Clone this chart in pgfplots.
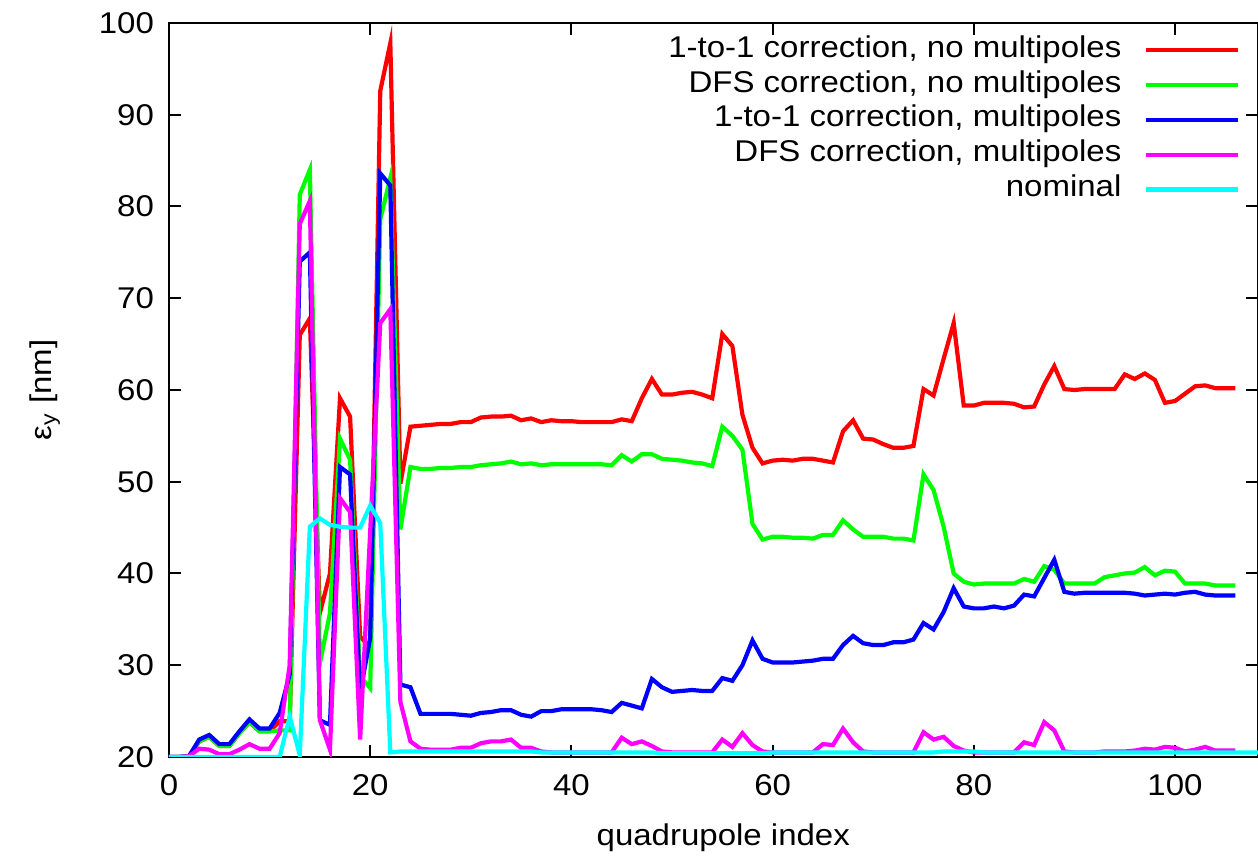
\documentclass[border=0pt]{standalone}
\usepackage{pgfplots}
\pgfplotsset{compat=1.18}
\usepackage{pgfplotstable}
\usepackage{fontspec}
\setmainfont{Liberation Sans}[FakeStretch=1.1]

\definecolor{cR}{RGB}{255,0,0}
\definecolor{cG}{RGB}{0,255,0}
\definecolor{cB}{RGB}{0,0,255}
\definecolor{cM}{RGB}{255,0,255}
\definecolor{cC}{RGB}{0,255,255}

% emittance growth along the line, 5 cases
\pgfplotstableread{
x r g b m c
0 20.0 20.0 20.0 20.0 20.0
1 20.0 20.0 20.0 20.0 20.0
2 20.1 20.1 20.1 20.1 20.0
3 21.7 21.7 21.9 20.9 20.0
4 22.2 22.2 22.4 20.8 20.0
5 21.2 21.2 21.4 20.3 20.0
6 21.2 21.2 21.4 20.3 20.0
7 22.6 22.6 22.8 20.8 20.0
8 23.8 23.8 24.1 21.4 20.0
9 22.8 22.8 23.1 20.9 20.0
10 22.8 22.8 23.1 20.9 20.0
11 23.9 22.9 24.8 22.6 20.0
12 23.9 22.9 29.0 30.0 24.4
13 66.0 81.3 74.0 78.1 20.2
14 67.8 84.0 75.0 80.6 45.1
15 35.7 30.2 24.0 24.0 46.0
16 40.0 35.7 23.5 20.8 45.3
17 59.1 54.7 51.6 48.2 45.1
18 57.1 52.4 50.8 46.7 45.0
19 33.1 28.8 27.0 21.9 45.0
20 32.0 27.5 33.0 44.6 47.4
21 92.6 78.6 83.6 67.3 45.5
22 97.8 83.1 82.3 68.8 20.5
23 49.8 44.8 27.9 26.0 20.6
24 56.0 51.6 27.6 21.7 20.6
25 56.1 51.4 24.7 20.9 20.6
26 56.2 51.4 24.7 20.8 20.6
27 56.3 51.5 24.7 20.8 20.6
28 56.3 51.5 24.7 20.8 20.6
29 56.5 51.6 24.6 21.0 20.6
30 56.5 51.6 24.5 21.0 20.6
31 57.0 51.8 24.8 21.5 20.6
32 57.1 51.9 24.9 21.7 20.6
33 57.1 52.0 25.1 21.7 20.6
34 57.2 52.2 25.1 21.9 20.6
35 56.7 51.9 24.6 21.0 20.6
36 56.9 52.0 24.4 21.0 20.6
37 56.5 51.8 25.0 20.6 20.5
38 56.7 51.9 25.0 20.5 20.5
39 56.6 51.9 25.2 20.5 20.5
40 56.6 51.9 25.2 20.5 20.5
41 56.5 51.9 25.2 20.5 20.5
42 56.5 51.9 25.2 20.5 20.5
43 56.5 51.9 25.1 20.5 20.5
44 56.5 51.8 24.9 20.5 20.5
45 56.8 52.9 25.9 22.1 20.5
46 56.6 52.2 25.6 21.4 20.5
47 59.1 53.0 25.3 21.7 20.5
48 61.2 53.0 28.5 21.2 20.5
49 59.5 52.5 27.6 20.6 20.4
50 59.5 52.4 27.1 20.5 20.4
51 59.7 52.3 27.2 20.5 20.4
52 59.8 52.1 27.3 20.5 20.4
53 59.5 52.0 27.2 20.5 20.4
54 59.1 51.7 27.2 20.5 20.4
55 66.1 56.0 28.6 21.9 20.4
56 64.8 55.0 28.3 21.1 20.4
57 57.3 53.5 30.0 22.6 20.4
58 53.7 45.4 32.7 21.3 20.4
59 52.0 43.7 30.7 20.6 20.4
60 52.3 44.0 30.3 20.5 20.5
61 52.4 44.0 30.3 20.5 20.5
62 52.3 43.9 30.3 20.5 20.5
63 52.5 43.9 30.4 20.5 20.5
64 52.5 43.8 30.5 20.5 20.5
65 52.3 44.2 30.7 21.4 20.5
66 52.1 44.2 30.7 21.3 20.5
67 55.5 45.8 32.2 23.1 20.5
68 56.7 44.8 33.2 21.6 20.5
69 54.7 44.0 32.4 20.6 20.5
70 54.6 44.0 32.2 20.5 20.5
71 54.1 44.0 32.2 20.5 20.5
72 53.7 43.8 32.5 20.5 20.5
73 53.7 43.8 32.5 20.5 20.5
74 53.9 43.6 32.8 20.5 20.5
75 60.1 50.8 34.6 22.7 20.5
76 59.4 49.1 33.9 21.9 20.5
77 63.4 45.1 35.8 22.2 20.6
78 67.3 40.0 38.4 21.2 20.6
79 58.3 39.1 36.4 20.7 20.6
80 58.3 38.8 36.2 20.5 20.6
81 58.6 38.9 36.2 20.5 20.5
82 58.6 38.9 36.4 20.5 20.5
83 58.6 38.9 36.2 20.5 20.5
84 58.5 38.9 36.5 20.5 20.5
85 58.1 39.4 37.7 21.6 20.5
86 58.2 39.1 37.5 21.3 20.5
87 60.6 40.8 39.5 23.8 20.5
88 62.6 40.4 41.5 22.9 20.5
89 60.1 38.9 38.0 20.6 20.5
90 60.0 38.9 37.8 20.5 20.5
91 60.1 38.9 37.9 20.5 20.5
92 60.1 38.9 37.9 20.5 20.5
93 60.1 39.6 37.9 20.6 20.5
94 60.1 39.8 37.9 20.6 20.5
95 61.7 40.0 37.9 20.6 20.5
96 61.2 40.1 37.8 20.7 20.5
97 61.8 40.7 37.6 20.9 20.5
98 61.1 39.8 37.7 20.8 20.5
99 58.6 40.3 37.8 21.1 20.5
100 58.8 40.2 37.7 21.0 20.5
101 59.6 38.9 37.9 20.6 20.5
102 60.4 38.9 38.0 20.8 20.5
103 60.5 38.9 37.7 21.1 20.5
104 60.2 38.7 37.6 20.7 20.5
105 60.2 38.7 37.6 20.7 20.5
106 60.2 38.7 37.6 20.7 20.5
107 nan nan nan nan 20.5
108 nan nan nan nan 20.5
109 nan nan nan nan 20.5
}\emit

\begin{document}
\begin{tikzpicture}
\begin{axis}[
  name=ax,
  scale only axis, width=544.5pt, height=367pt,
  xmin=0, xmax=108.25, ymin=20, ymax=100,
  xtick={0,20,...,100}, ytick={20,30,...,100},
  tick align=inside, major tick length=6pt,
  axis line style={line width=1.2pt},
  every tick/.style={black, line width=1pt},
  /pgf/number format/assume math mode=true,
  tick label style={font=\fontsize{15}{18}\selectfont},
  yticklabel style={xshift=-4pt},
  xticklabel style={yshift=-5pt},
  label style={font=\fontsize{15}{18}\selectfont},
  xlabel={quadrupole index},
  ylabel={ε\textsubscript{y} [nm]},
  xlabel style={at={(axis description cs:0.509,-0.110)}, anchor=center},
  ylabel style={at={(axis description cs:-0.114,0.5)}, anchor=center},
  every axis plot/.append style={line width=2.1pt},
  legend plot pos=right,
  legend cell align=right,
  legend image code/.code={\draw[#1] (0pt,0pt) -- (46pt,0pt);},
  legend style={at={(axis description cs:1,1)}, anchor=north east,
    xshift=-9pt, yshift=-6pt, draw=none, fill=none, inner sep=0pt,
    font=\fontsize{15}{18}\selectfont, row sep=2.4pt, column sep=11pt,
    nodes={inner sep=0pt, text height=11pt, text depth=4pt}},
]
\addplot[cR] table[x=x, y=r] {\emit};
\addlegendentry{1-to-1 correction, no multipoles}
\addplot[cG] table[x=x, y=g] {\emit};
\addlegendentry{DFS correction, no multipoles}
\addplot[cB] table[x=x, y=b] {\emit};
\addlegendentry{1-to-1 correction, multipoles}
\addplot[cM] table[x=x, y=m] {\emit};
\addlegendentry{DFS correction, multipoles}
\addplot[cC] table[x=x, y=c] {\emit};
\addlegendentry{nominal}
\end{axis}
\pgfresetboundingbox
\path ([shift={(-84.5pt,-50.5pt)}]ax.south west) rectangle ([shift={(0pt,11.5pt)}]ax.north east);
\end{tikzpicture}
\end{document}
